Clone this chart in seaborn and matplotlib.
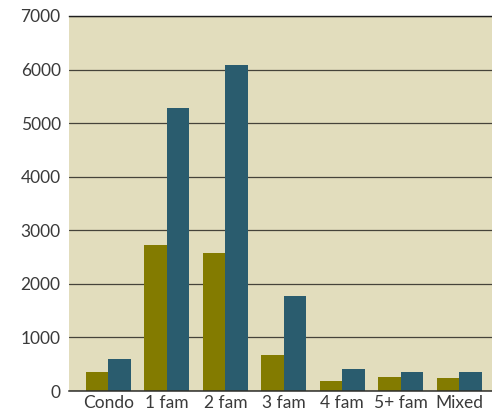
import matplotlib
matplotlib.use("Agg")
import matplotlib.pyplot as plt
import seaborn as sns
import pandas as pd

# Property types and the two counts per type
categories = ["Condo", "1 fam", "2 fam", "3 fam", "4 fam", "5+ fam", "Mixed"]
series_names = ["Series 1", "Series 2"]
series_1 = [355, 2720, 2575, 670, 185, 260, 240]
series_2 = [600, 5280, 6080, 1775, 410, 355, 355]
y_ticks = [0, 1000, 2000, 3000, 4000, 5000, 6000, 7000]

df = pd.DataFrame({
    "type": categories * 2,
    "series": [series_names[0]] * len(categories) + [series_names[1]] * len(categories),
    "count": series_1 + series_2,
})

sns.set_theme(style="white")
plt.rcParams["font.family"] = ["Lato", "DejaVu Sans"]

fig = plt.figure(figsize=(4.92, 4.17), dpi=100)
ax = fig.add_axes([69 / 492, 26 / 417, 1 - 69 / 492, 375 / 417])
ax.set_facecolor("#e2ddbd")

sns.barplot(
    data=df, x="type", y="count", hue="series", order=categories,
    hue_order=series_names, palette=["#837b00", "#2a5c6e"],
    width=0.77, saturation=1, legend=False, ax=ax, zorder=2,
)
for patch in ax.patches:
    patch.set_edgecolor("none")

ax.set_ylim(0, 7000)
ax.set_xlim(-0.675, 6.56)
ax.set_yticks(y_ticks)
ax.yaxis.grid(True, color="#45433a", linewidth=0.9, zorder=1)
ax.set_axisbelow(True)

for side in ["left", "right"]:
    ax.spines[side].set_visible(False)
ax.spines["top"].set_color("#1e1e1e")
ax.spines["top"].set_linewidth(1.0)
ax.spines["bottom"].set_color("#2e2e2a")
ax.spines["bottom"].set_linewidth(1.1)

ax.tick_params(axis="both", length=0, labelsize=12.5, labelcolor="#3a3a3a")
ax.tick_params(axis="y", pad=6)
ax.tick_params(axis="x", pad=3)
ax.set_xlabel("")
ax.set_ylabel("")

fig.savefig("out.png", dpi=100, facecolor="white")
